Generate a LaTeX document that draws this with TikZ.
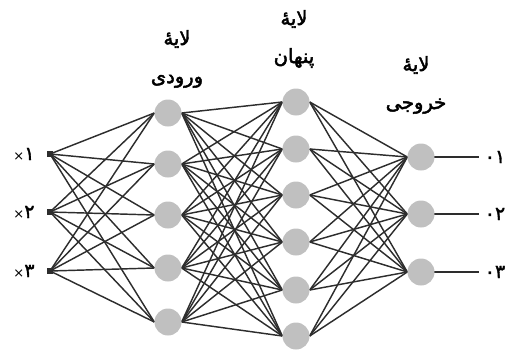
\documentclass[tikz,border=0pt]{standalone}
\usepackage{fontspec}
\usetikzlibrary{backgrounds}
\newfontfamily\arabicfont[Script=Arabic,FakeBold=2.4]{DejaVu Sans}
\newfontfamily\digitfont[Script=Arabic,FakeBold=1.8]{DejaVu Sans}
\TeXXeTstate=1
\definecolor{nodegray}{RGB}{192,192,192}
\definecolor{linegray}{RGB}{45,45,45}
\begin{document}
\begin{tikzpicture}[x=1pt,y=-1pt,
  neuron/.style={circle,fill=nodegray,minimum size=27pt,inner sep=0pt},
  link/.style={draw=linegray,line width=1.45pt},
  inpdot/.style={rectangle,fill=linegray,minimum size=6.5pt,inner sep=0pt},
  layertitle/.style={font=\arabicfont\fontsize{19.5}{38}\selectfont,align=center},
  iolabel/.style={font=\digitfont\fontsize{19}{20}\selectfont,inner sep=0pt}]
\useasboundingbox (0,0) rectangle (509,351);

% input points with their labels
\foreach \i/\y/\d in {1/154/۱,2/212/۲,3/271/۳}{
  \node[inpdot] (x\i) at (50,\y) {};
  \node[iolabel] (xl\i) at (24,\y) {{\fontspec{DejaVu Sans}\fontsize{13}{14}\selectfont ×}\d};
}
% input layer
\foreach \i/\y in {1/113,2/164,3/215,4/268,5/322}
  \node[neuron] (a\i) at (168,\y) {};
% hidden layer
\foreach \i/\y in {1/102,2/149,3/195,4/242,5/290,6/336}
  \node[neuron] (h\i) at (296,\y) {};
% output layer
\foreach \i/\y in {1/157,2/214,3/272}{
  \node[neuron] (o\i) at (421,\y) {};
  \coordinate (e\i) at (479,\y);
  \node[iolabel] (ol\i) at (495,\y) {۰\ifcase\i\or ۱\or ۲\or ۳\fi};
}

% connections
\begin{scope}[on background layer]
  \foreach \i in {1,2,3}
    \foreach \j in {1,...,5}
      \draw[link] (x\i.center) -- (a\j.west);
  \foreach \j in {1,...,5}
    \foreach \k in {1,...,6}
      \draw[link] (a\j.east) -- (h\k.west);
  \foreach \k in {1,...,6}
    \foreach \m in {1,2,3}
      \draw[link] (h\k.east) -- (o\m.west);
  \foreach \m in {1,2,3}
    \draw[link,line width=1.8pt] (o\m.center) -- (e\m);
\end{scope}

% layer titles
\node[layertitle] (t1) at (177,59) {\beginR لایهٔ\endR\\\beginR ورودی\endR};
\node[layertitle] (t2) at (294,39) {\beginR لایهٔ\endR\\\beginR پنهان\endR};
\node[layertitle] (t3) at (416,85) {\beginR لایهٔ\endR\\\beginR خروجی\endR};
\end{tikzpicture}
\end{document}
